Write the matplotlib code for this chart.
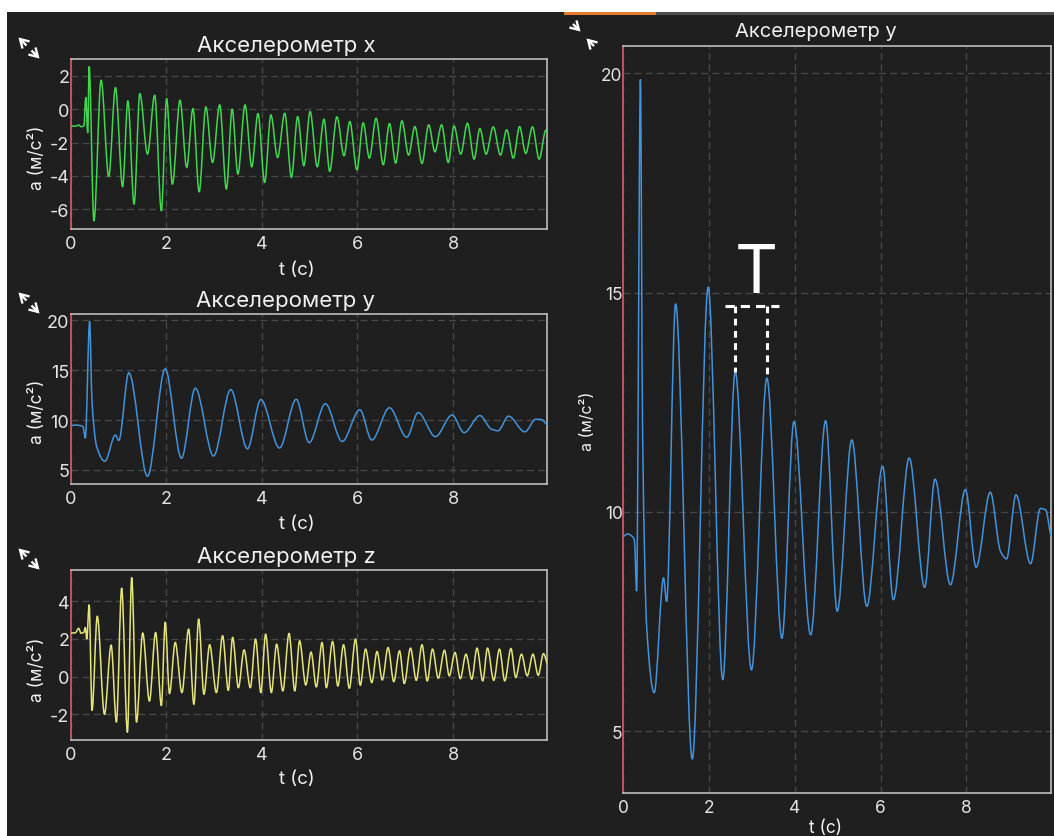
import numpy as np
import matplotlib
matplotlib.use("Agg")
import matplotlib.pyplot as plt
from matplotlib.path import Path
from matplotlib.patches import PathPatch, Rectangle, FancyArrowPatch

plt.rcParams['font.family'] = ['Inter', 'DejaVu Sans']
plt.rcParams['axes.unicode_minus'] = False

# ---------------- data ----------------
time_ticks = [0, 2, 4, 6, 8]

accel_x = [(0.00, -1.00), (0.10, -1.02), (0.17, -0.95), (0.22, -1.05), (0.28, -1.00),
           (0.32, 0.70), (0.36, -1.40), (0.39, 2.55), (0.49, -6.70), (0.64, 1.74),
           (0.80, -4.04), (0.94, 1.30), (1.09, -4.66), (1.20, 0.50), (1.33, -5.70),
           (1.45, 0.94), (1.61, -2.70), (1.76, 0.84), (1.90, -6.10), (2.01, 0.64),
           (2.13, -4.50), (2.29, 0.54), (2.43, -3.50), (2.56, 0.04), (2.69, -4.96),
           (2.83, 0.14), (2.97, -3.20), (3.12, 0.26), (3.26, -4.80), (3.38, 0.00),
           (3.50, -3.90), (3.65, 0.26), (3.79, -3.46), (3.92, -0.26), (4.06, -4.40),
           (4.19, -0.34), (4.33, -2.90), (4.48, -0.24), (4.62, -4.10), (4.75, -0.44),
           (4.88, -3.40), (5.01, -0.14), (5.16, -3.46), (5.30, -0.60), (5.42, -3.74),
           (5.57, -0.46), (5.72, -2.80), (5.84, -0.74), (5.99, -3.64), (6.12, -0.82),
           (6.25, -2.94), (6.39, -0.54), (6.54, -3.34), (6.67, -0.86), (6.80, -3.24),
           (6.93, -0.70), (7.07, -2.76), (7.20, -1.04), (7.35, -3.26), (7.49, -0.94),
           (7.62, -2.56), (7.76, -0.94), (7.90, -3.20), (8.02, -1.00), (8.16, -2.70),
           (8.30, -0.84), (8.44, -3.00), (8.56, -1.16), (8.69, -2.70), (8.84, -1.06),
           (8.99, -2.76), (9.12, -1.24), (9.26, -2.94), (9.39, -1.04), (9.52, -2.66),
           (9.66, -1.06), (9.80, -3.00), (9.94, -1.26), (9.97, -1.35)]

accel_y = [(0.00, 9.45), (0.10, 9.50), (0.20, 9.45), (0.26, 9.35), (0.31, 8.20),
           (0.40, 19.85), (0.45, 11.80), (0.55, 7.30), (0.72, 5.88), (0.94, 8.50),
           (1.01, 7.96), (1.22, 14.74), (1.61, 4.37), (1.98, 15.12), (2.32, 6.18),
           (2.61, 13.20), (2.99, 6.40), (3.35, 13.05), (3.70, 7.12), (3.98, 12.06),
           (4.37, 7.20), (4.72, 12.08), (4.99, 7.74), (5.33, 11.64), (5.68, 7.85),
           (6.05, 11.04), (6.30, 8.00), (6.67, 11.23), (7.03, 8.28), (7.27, 10.75),
           (7.63, 8.34), (7.98, 10.51), (8.23, 8.74), (8.56, 10.45), (8.80, 9.10),
           (8.94, 8.93), (9.16, 10.39), (9.50, 8.82), (9.73, 10.08), (9.85, 10.05),
           (9.97, 9.46)]

accel_z = [(0.00, 2.31), (0.10, 2.32), (0.17, 2.56), (0.22, 2.30), (0.28, 2.35),
           (0.31, 2.60), (0.34, 2.00), (0.39, 3.80), (0.45, -1.79), (0.56, 3.20),
           (0.71, -2.00), (0.85, 1.67), (0.96, -2.41), (1.07, 4.69), (1.19, -2.95),
           (1.28, 5.24), (1.38, -2.41), (1.51, 2.31), (1.65, -1.30), (1.78, 2.34),
           (1.90, -1.53), (1.98, 2.88), (2.07, -0.90), (2.19, 1.81), (2.33, -0.85),
           (2.47, 2.52), (2.58, -1.47), (2.68, 3.05), (2.79, -0.94), (2.91, 1.69),
           (3.05, -0.85), (3.18, 2.17), (3.30, -0.73), (3.39, 2.08), (3.51, -0.59),
           (3.63, 1.42), (3.76, -0.59), (3.87, 1.99), (3.98, -0.85), (4.08, 2.25),
           (4.20, -0.85), (4.31, 1.72), (4.44, -0.76), (4.57, 2.29), (4.69, -0.76),
           (4.79, 1.90), (4.92, -0.45), (5.03, 1.30), (5.14, -0.55), (5.26, 1.81),
           (5.35, -0.59), (5.48, 1.86), (5.59, -0.50), (5.71, 1.69), (5.83, -0.62),
           (5.96, 1.99), (6.06, -0.46), (6.17, 1.46), (6.30, -0.32), (6.41, 1.33),
           (6.52, -0.18), (6.64, 1.54), (6.76, -0.27), (6.88, 1.37), (6.98, -0.37),
           (7.11, 1.51), (7.23, -0.20), (7.35, 1.69), (7.46, -0.23), (7.57, 1.46),
           (7.69, -0.09), (7.82, 1.40), (7.92, 0.04), (8.04, 1.28), (8.15, -0.11),
           (8.27, 1.19), (8.39, -0.14), (8.50, 1.51), (8.62, -0.23), (8.72, 1.51),
           (8.85, -0.20), (8.97, 1.46), (9.08, -0.23), (9.21, 1.49), (9.31, -0.05),
           (9.43, 1.19), (9.55, 0.04), (9.67, 1.19), (9.78, 0.07), (9.89, 1.22),
           (9.97, 0.66)]

yticks_x = [-6, -4, -2, 0, 2]
yticks_y = [5, 10, 15, 20]
yticks_z = [-2, 0, 2, 4]

titles = ["Акселерометр x", "Акселерометр y", "Акселерометр z"]
xlabel = "t (с)"
ylabel = "a (м/с²)"

# period annotation: indices of the two marked peaks in accel_y
period_peaks = [15, 17]
period_level = 14.70
period_text = "T"

# ---------------- style ----------------
BG = '#1f1f1f'
GRID = '#474747'
SPINE = '#bdbdbd'
SPINE_L = '#c85a5a'
TICK = '#e4e4e4'
TEXT = '#f2f2f2'
C_X = '#3fd84e'
C_Y = '#4393dc'
C_Z = '#e4e478'

W, H = 1054, 837
fig = plt.figure(figsize=(W / 100, H / 100), dpi=100, facecolor=BG)


def smooth_path(series):
    t = np.array([p[0] for p in series], float)
    v = np.array([p[1] for p in series], float)
    h = np.diff(t)
    d = np.diff(v) / h
    m = np.zeros_like(v)
    for i in range(1, len(v) - 1):
        if d[i - 1] * d[i] > 0:
            w1 = 2 * h[i] + h[i - 1]
            w2 = h[i] + 2 * h[i - 1]
            m[i] = (w1 + w2) / (w1 / d[i - 1] + w2 / d[i])
    m[-1] = d[-1]
    verts = [(t[0], v[0])]
    codes = [Path.MOVETO]
    for i in range(len(t) - 1):
        verts += [(t[i] + h[i] / 3, v[i] + m[i] * h[i] / 3),
                  (t[i + 1] - h[i] / 3, v[i + 1] - m[i + 1] * h[i] / 3),
                  (t[i + 1], v[i + 1])]
        codes += [Path.CURVE4] * 3
    return Path(verts, codes), t, v


def px_rect(left, top, right, bottom):
    return [left / W, 1 - bottom / H, (right - left) / W, (bottom - top) / H]


def panel(rect, series, color, yticks, tick_fs, lab_fs, ypad, xlab_pos, ylab_pos):
    ax = fig.add_axes(rect, facecolor=BG)
    path, t, v = smooth_path(series)
    ax.add_patch(PathPatch(path, fill=False, edgecolor=color, lw=1.1,
                           joinstyle='round', capstyle='round', zorder=3))
    ax.set_xlim(t[0], t[-1])
    lo, hi = v.min(), v.max()
    pad = 0.05 * (hi - lo)
    ax.set_ylim(lo - pad, hi + pad)
    ax.set_xticks(time_ticks)
    ax.set_yticks(yticks)
    ax.tick_params(axis='both', length=0, labelsize=tick_fs, colors=TICK)
    ax.tick_params(axis='y', pad=ypad)
    ax.tick_params(axis='x', pad=4.5)
    ax.grid(True, color=GRID, lw=1.0, ls=(0, (5, 3)), zorder=0)
    ax.set_axisbelow(True)
    for s in ['top', 'right', 'bottom']:
        ax.spines[s].set_color(SPINE)
        ax.spines[s].set_linewidth(1.2)
    ax.spines['left'].set_color(SPINE_L)
    ax.spines['left'].set_linewidth(1.3)
    ax.set_xlabel(xlabel, fontsize=lab_fs, color=TEXT, va='center')
    ax.xaxis.set_label_coords(*xlab_pos)
    ax.set_ylabel(ylabel, fontsize=lab_fs - 1, color=TEXT, va='center')
    ax.yaxis.set_label_coords(*ylab_pos)
    return ax


ax1 = panel(px_rect(70.5, 60, 547.3, 229.5), accel_x, C_X, yticks_x, 13, 13.5, 0.8,
            (0.475, -0.243), (-0.070, 0.422))
ax2 = panel(px_rect(70.5, 315, 547.3, 485), accel_y, C_Y, yticks_y, 13, 13.5, 0.8,
            (0.475, -0.235), (-0.070, 0.430))
ax3 = panel(px_rect(70.5, 571, 547.3, 741), accel_z, C_Z, yticks_z, 13, 13.5, 0.8,
            (0.475, -0.229), (-0.070, 0.418))
ax4 = panel(px_rect(623.3, 46.7, 1050.7, 794), accel_y, C_Y, yticks_y, 12.5, 12.5, 0.5,
            (0.472, -0.0455), (-0.083, 0.499))

# titles
for (cx, base), txt, fs in [((286, 51.7), titles[0], 16),
                            ((286, 307.3), titles[1], 16),
                            ((286, 562.7), titles[2], 16),
                            ((815.5, 37.3), titles[1], 14.5)]:
    fig.text(cx / W, 1 - base / H, txt, ha='center', va='baseline',
             fontsize=fs, color=TEXT)

# period annotation on the big panel
ty = [accel_y[i][0] for i in period_peaks]
tv = [accel_y[i][1] for i in period_peaks]
ax4.plot([ty[0] - 0.23, ty[1] + 0.28], [period_level, period_level], color='white',
         lw=2.2, ls=(0, (3, 2)), zorder=5)
for xx, yy in zip(ty, tv):
    ax4.plot([xx, xx], [period_level, yy], color='white', lw=2.2,
             ls=(0, (2.2, 1.8)), zorder=5)
ax4.text((ty[0] + ty[1]) / 2 + 0.12, period_level + 0.32, period_text, ha='center',
         va='baseline', fontsize=48, color='white', fontweight='normal', zorder=6)

# background decorations (white margins, tab bar)
fig.patches.append(Rectangle((0, 1 - 12.7 / H), 1, 12.7 / H, transform=fig.transFigure,
                             facecolor='white', edgecolor='none', zorder=-1))
fig.patches.append(Rectangle((0, 0), 7 / W, 1, transform=fig.transFigure,
                             facecolor='white', edgecolor='none', zorder=-1))
fig.patches.append(Rectangle((564 / W, 1 - 16 / H), (W - 564) / W, 3.3 / H,
                             transform=fig.transFigure, facecolor='#4d4d4d',
                             edgecolor='none', zorder=-1))
fig.patches.append(Rectangle((564 / W, 1 - 16 / H), (656 - 564) / W, 3.3 / H,
                             transform=fig.transFigure, facecolor='#e47b2c',
                             edgecolor='none', zorder=0))


def arrow(tail, head):
    fig.add_artist(FancyArrowPatch(
        (tail[0] / W, 1 - tail[1] / H), (head[0] / W, 1 - head[1] / H),
        transform=fig.transFigure, arrowstyle='->,head_length=0.5,head_width=0.3',
        color='white', lw=1.7, mutation_scale=12, shrinkA=0, shrinkB=0,
        joinstyle='miter', capstyle='butt'))


for top in [37, 292, 548]:
    arrow((26.5, top + 9.5), (18.5, top + 1.5))
    arrow((31.5, top + 14.5), (39.5, top + 22.5))
arrow((573, 25), (580.5, 32.5))
arrow((594, 47), (586.5, 39.5))

fig.savefig('out.png', dpi=100, facecolor=BG)
